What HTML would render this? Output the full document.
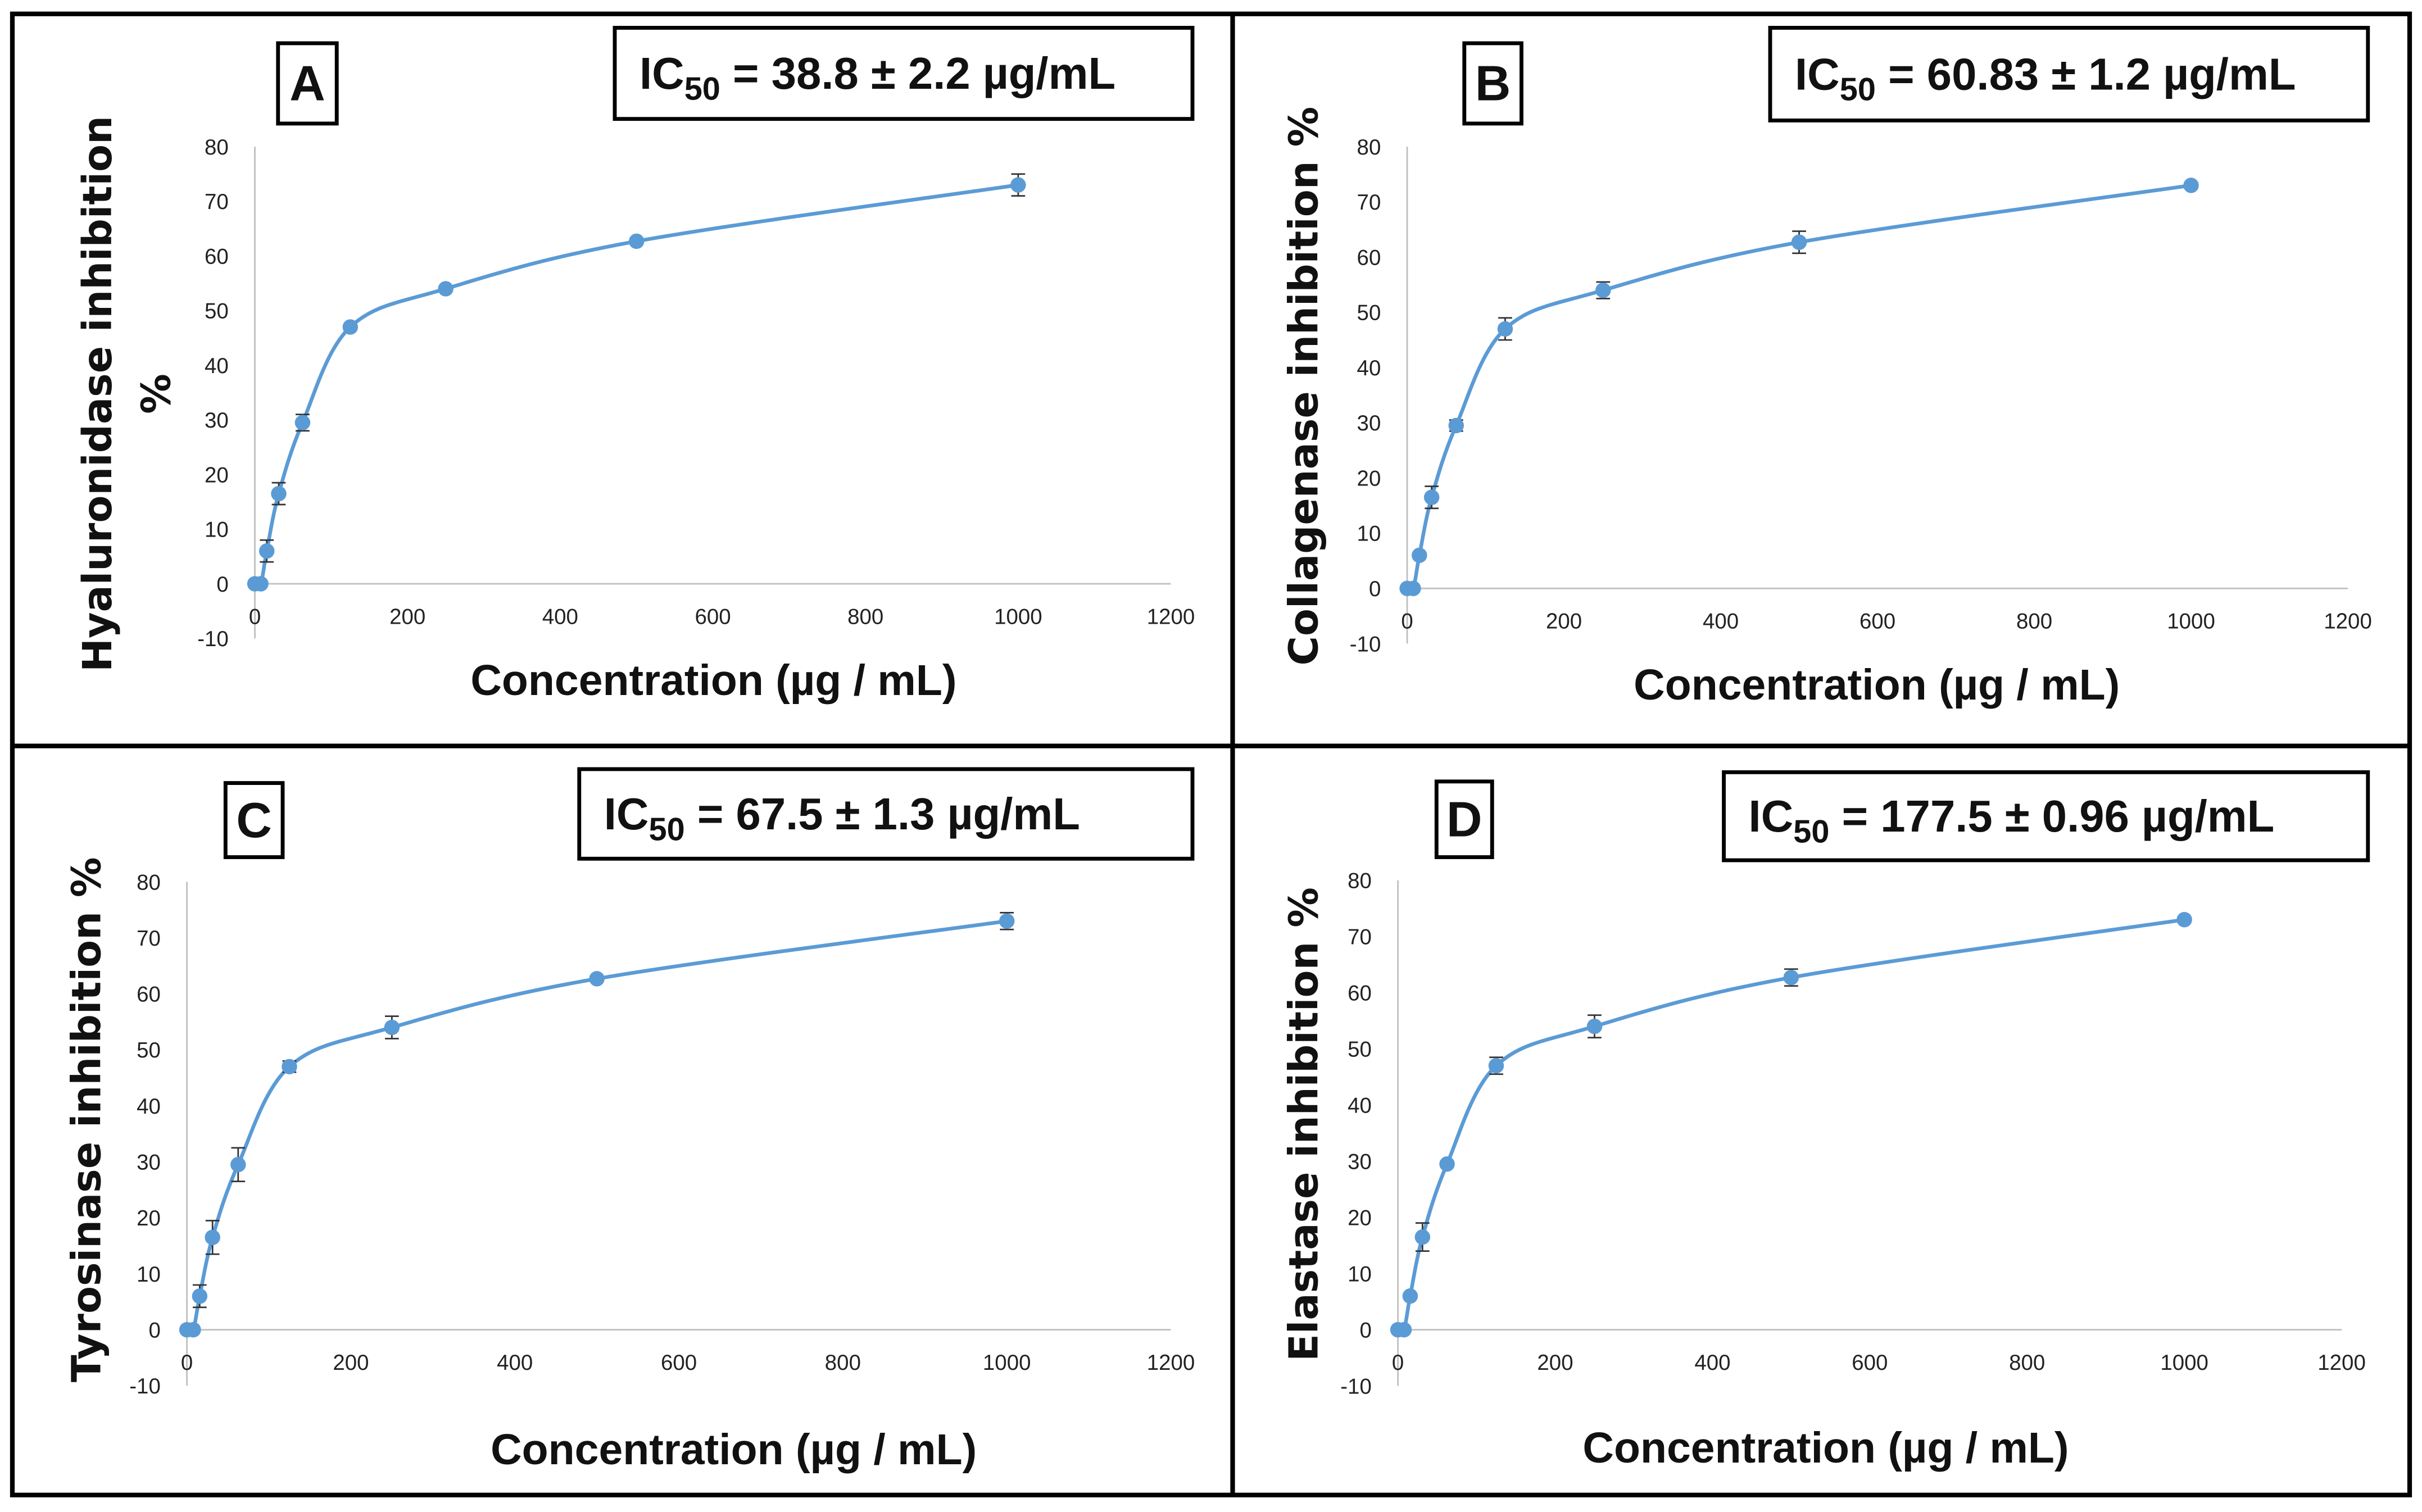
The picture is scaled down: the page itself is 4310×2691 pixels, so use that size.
<!DOCTYPE html>
<html><head><meta charset="utf-8">
<style>
html,body{margin:0;padding:0;background:#fff;}
svg{display:block;}
.tick{font-family:"Liberation Sans Narrow","Liberation Sans",sans-serif;font-size:14px;fill:#222;}
.xt{font-family:"Liberation Sans Narrow","Liberation Sans",sans-serif;font-size:28px;font-weight:bold;fill:#111;}
.yt{font-family:"DejaVu Sans","Liberation Sans",sans-serif;font-size:26px;font-weight:bold;fill:#111;}
.ic{font-family:"Liberation Sans Narrow","Liberation Sans",sans-serif;font-size:29px;font-weight:bold;fill:#111;}
.lt{font-family:"Liberation Sans",sans-serif;font-size:32px;font-weight:bold;fill:#111;}
</style></head>
<body>
<svg id="fig" width="4310" height="2691" viewBox="0 0 1568 979" xmlns="http://www.w3.org/2000/svg">
<rect x="8" y="9" width="1552" height="959" fill="none" stroke="#000" stroke-width="3"/>
<line x1="798" y1="9" x2="798" y2="968" stroke="#000" stroke-width="3"/>
<line x1="8" y1="483" x2="1560" y2="483" stroke="#000" stroke-width="3"/>
</svg>
<script>
const concentrations = [0, 7.8, 15.6, 31.25, 62.5, 125, 250, 500, 1000];
const inhibitionA = [0, 0, 6, 16.5, 29.5, 47, 54, 62.7, 73];
const errorA = [0, 0, 2, 2, 1.5, 0.5, 0.5, 0.5, 2];
const inhibitionB = [0, 0, 6, 16.5, 29.5, 47, 54, 62.7, 73];
const errorB = [0, 0, 0.5, 2, 1, 2, 1.5, 2, 0.5];
const inhibitionC = [0, 0, 6, 16.5, 29.5, 47, 54, 62.7, 73];
const errorC = [0, 0, 2, 3, 3, 1, 2, 0.5, 1.5];
const inhibitionD = [0, 0, 6, 16.5, 29.5, 47, 54, 62.7, 73];
const errorD = [0, 0, 0.5, 2.5, 0.5, 1.5, 2, 1.5, 0.5];
const xTicks = [0, 200, 400, 600, 800, 1000, 1200];
const yTicks = [-10, 0, 10, 20, 30, 40, 50, 60, 70, 80];
const panelLetters = ["A", "B", "C", "D"];
const icLabels = ["38.8 ± 2.2 µg/mL", "60.83 ± 1.2 µg/mL", "67.5 ± 1.3 µg/mL", "177.5 ± 0.96 µg/mL"];
const yTitles = ["Hyaluronidase inhibition", "Collagenase inhibition %", "Tyrosinase inhibition %", "Elastase inhibition %"];

const NS = "http://www.w3.org/2000/svg";
const svg = document.getElementById("fig");
function mk(tag, attrs, parent) {
  const e = document.createElementNS(NS, tag);
  for (const k in attrs) e.setAttribute(k, attrs[k]);
  (parent || svg).appendChild(e);
  return e;
}
const panels = [
  {vals: inhibitionA, errs: errorA, x0: 165, x1200: 758, y0: 378, y80: 95, xlY: 404, xtX: 462, xtY: 450, ytX: 72, ytY: 255,
   box: [180, 28, 38, 52], ic: [398, 18, 374, 59]},
  {vals: inhibitionB, errs: errorB, x0: 911, x1200: 1520, y0: 381, y80: 95, xlY: 407, xtX: 1215, xtY: 453, ytX: 853, ytY: 250,
   box: [948, 28, 37, 52], ic: [1146, 18, 387, 60]},
  {vals: inhibitionC, errs: errorC, x0: 121, x1200: 758, y0: 861, y80: 571, xlY: 887, xtX: 475, xtY: 948, ytX: 65, ytY: 725,
   box: [146, 507, 37, 48], ic: [375, 498, 397, 58]},
  {vals: inhibitionD, errs: errorD, x0: 905, x1200: 1516, y0: 861, y80: 570, xlY: 887, xtX: 1182, xtY: 947, ytX: 853, ytY: 728,
   box: [930, 506, 36, 49], ic: [1116, 500, 417, 57]}
];
panels.forEach((p, i) => {
  const g = mk("g", {});
  
  
  const xs = v => p.x0 + v / 1200 * (p.x1200 - p.x0);
  const ys = v => p.y0 - v / 80 * (p.y0 - p.y80);
  const ya = mk("line", {x1: p.x0, y1: ys(80), x2: p.x0, y2: ys(-10), stroke: "#bfbfbf", "stroke-width": 1}, g);
  
  
  const xa = mk("line", {x1: p.x0, y1: ys(0), x2: xs(1200), y2: ys(0), stroke: "#bfbfbf", "stroke-width": 1}, g);
  
  
  yTicks.forEach(t => {
    const e = mk("text", {x: p.x0 - 17, y: ys(t) + 5, "text-anchor": "end", class: "tick"}, g);
    e.textContent = t;
    
    
  });
  xTicks.forEach(t => {
    const e = mk("text", {x: xs(t), y: p.xlY, "text-anchor": "middle", class: "tick"}, g);
    e.textContent = t;
    
    
  });
  const pts = concentrations.map((c, k) => [xs(c), ys(p.vals[k])]);
  let d = "M" + pts[0][0] + "," + pts[0][1];
  for (let k = 0; k < pts.length - 1; k++) {
    const p0 = pts[Math.max(0, k - 1)], p1 = pts[k], p2 = pts[k + 1], p3 = pts[Math.min(pts.length - 1, k + 2)];
    const tcf = 1 / 6;
    const c1 = [p1[0] + (p2[0] - p0[0]) * tcf, p1[1] + (p2[1] - p0[1]) * tcf];
    const c2 = [p2[0] - (p3[0] - p1[0]) * tcf, p2[1] - (p3[1] - p1[1]) * tcf];
    d += " C" + c1[0] + "," + c1[1] + " " + c2[0] + "," + c2[1] + " " + p2[0] + "," + p2[1];
  }
  const line = mk("path", {d: d, fill: "none", stroke: "#5b9bd5", "stroke-width": 2.4}, g);
  
  
  concentrations.forEach((c, k) => {
    const cx = xs(c), cy = ys(p.vals[k]), e = p.errs[k];
    if (e > 0) {
      const eb = mk("path", {d: `M${cx},${ys(p.vals[k] + e)}V${ys(p.vals[k] - e)}M${cx - 4.5},${ys(p.vals[k] + e)}h9M${cx - 4.5},${ys(p.vals[k] - e)}h9`, stroke: "#333", "stroke-width": 1, fill: "none"}, g);
      
      
    }
    const m = mk("circle", {cx: cx, cy: cy, r: 5, fill: "#5b9bd5"}, g);
    
    
  });
  const xt = mk("text", {x: p.xtX, y: p.xtY, "text-anchor": "middle", class: "xt"}, g);
  xt.textContent = "Concentration (µg / mL)";
  
  
  const yt = mk("text", {x: 0, y: 0, "text-anchor": "middle", class: "yt", transform: `translate(${p.ytX},${p.ytY}) rotate(-90)`}, g);
  yt.textContent = yTitles[i];
  
  
  if (i === 0) {
    const pc = mk("text", {x: 0, y: 0, "text-anchor": "middle", class: "yt", transform: `translate(110,255) rotate(-90)`}, g);
    pc.textContent = "%";
    
    
  }
  const b = p.box;
  const lb = mk("rect", {x: b[0], y: b[1], width: b[2], height: b[3], fill: "#fff", stroke: "#000", "stroke-width": 2.5}, g);
  
  
  const lt = mk("text", {x: b[0] + b[2] / 2, y: b[1] + b[3] / 2 + 11, "text-anchor": "middle", class: "lt"}, g);
  lt.textContent = panelLetters[i];
  
  
  const c = p.ic;
  const ib = mk("rect", {x: c[0], y: c[1], width: c[2], height: c[3], fill: "#fff", stroke: "#000", "stroke-width": 2.5}, g);
  
  
  const it = mk("text", {x: c[0] + 16, y: c[1] + c[3] / 2 + 10, class: "ic"}, g);
  
  
  const t1 = mk("tspan", {}, it); t1.textContent = "IC";
  const t2 = mk("tspan", {dy: 7, "font-size": 21}, it); t2.textContent = "50";
  const t3 = mk("tspan", {dy: -7}, it); t3.textContent = " = " + icLabels[i];
});
</script>
</body></html>
